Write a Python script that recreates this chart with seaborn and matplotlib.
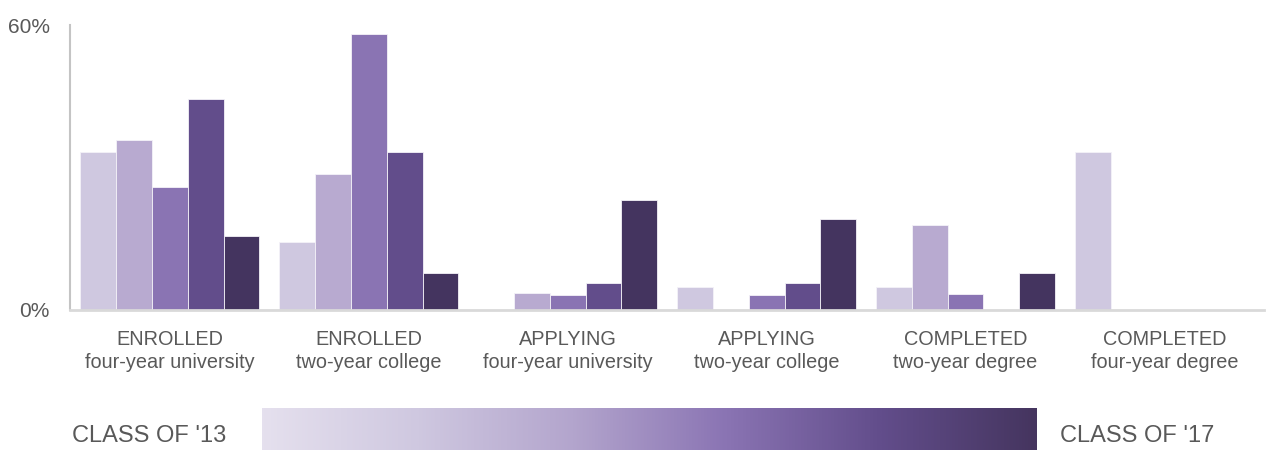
import numpy as np
import pandas as pd
import matplotlib
matplotlib.use("Agg")
import matplotlib.pyplot as plt
from matplotlib.colors import LinearSegmentedColormap
import seaborn as sns

# Outcome categories (two-line tick labels)
categories = [
    "ENROLLED\nfour-year university",
    "ENROLLED\ntwo-year college",
    "APPLYING\nfour-year university",
    "APPLYING\ntwo-year college",
    "COMPLETED\ntwo-year degree",
    "COMPLETED\nfour-year degree",
]

# Share of each graduating class (percent)
cohorts = ["2013", "2014", "2015", "2016", "2017"]
class_13 = [33.2, 14.2, 0.0, 4.7, 4.7, 33.2]
class_14 = [35.7, 28.6, 3.5, 0.0, 17.9, 0.0]
class_15 = [25.8, 58.2, 3.1, 3.1, 3.2, 0.0]
class_16 = [44.4, 33.3, 5.5, 5.5, 0.0, 0.0]
class_17 = [15.4, 7.6, 23.1, 19.1, 7.6, 0.0]

y_ticks = [0, 60]
y_tick_labels = ["0%", "60%"]
legend_left = "CLASS OF '13"
legend_right = "CLASS OF '17"

palette = ["#cfc8e0", "#b8aad0", "#8a74b3", "#624d8b", "#44345f"]

rows = []
for cohort, values in zip(cohorts, [class_13, class_14, class_15, class_16, class_17]):
    for cat, v in zip(categories, values):
        rows.append({"category": cat, "cohort": cohort, "pct": v})
df = pd.DataFrame(rows)

sns.set_theme(style="white")
plt.rcParams["font.family"] = ["Liberation Sans", "DejaVu Sans"]
text_color = "#595959"

fig = plt.figure(figsize=(12.67, 4.5), dpi=100)
ax = fig.add_axes([0.0556, 0.3122, 0.9420, 0.6322])

sns.barplot(
    data=df, x="category", y="pct", hue="cohort", order=categories,
    hue_order=cohorts, palette=palette, saturation=1, width=0.9,
    edgecolor="#f4f2f8", linewidth=0.6, legend=False, ax=ax,
)

ax.set_xlim(-0.5, len(categories) - 0.5)
ax.set_ylim(0, 60)
ax.set_yticks(y_ticks)
ax.set_yticklabels(y_tick_labels)
ax.set_xlabel("")
ax.set_ylabel("")

ax.tick_params(axis="both", length=0, colors=text_color)
ax.tick_params(axis="x", labelsize=14.3, pad=15)
ax.tick_params(axis="y", labelsize=15, pad=15)
for lab in ax.get_xticklabels():
    lab.set_linespacing(1.25)

for side in ["top", "right"]:
    ax.spines[side].set_visible(False)
ax.spines["left"].set_color("#c4c4c4")
ax.spines["left"].set_linewidth(1.5)
ax.spines["bottom"].set_color("#d9d9d9")
ax.spines["bottom"].set_linewidth(2)

# Gradient key running from the earliest to the latest class
cmap = LinearSegmentedColormap.from_list(
    "cohort_grad", ["#e5e0ee", "#cfc8e0", "#b3a5cd", "#8a74b3", "#624d8b", "#45355f"]
)
kax = fig.add_axes([262 / 1267, 0.0, (1037 - 262) / 1267, 42 / 450])
kax.imshow(np.linspace(0, 1, 512)[None, :], aspect="auto", cmap=cmap)
kax.set_axis_off()

fig.text(72 / 1267, 14 / 450, legend_left, fontsize=17, color=text_color,
         ha="left", va="center")
fig.text(1060 / 1267, 14 / 450, legend_right, fontsize=17, color=text_color,
         ha="left", va="center")

fig.savefig("out.png", dpi=100)
